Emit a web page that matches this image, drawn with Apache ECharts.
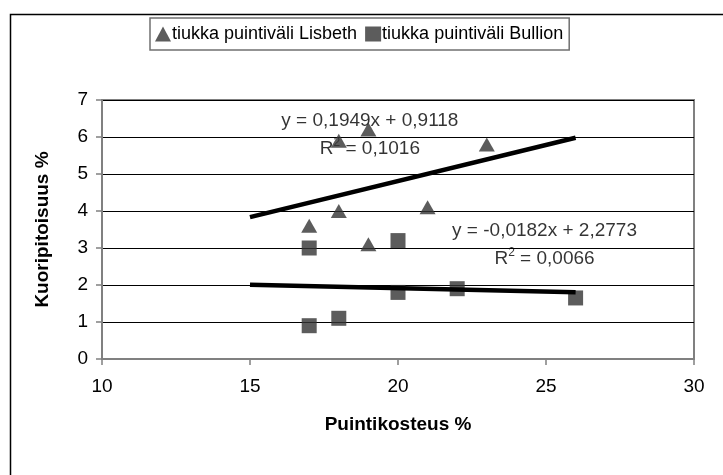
<!DOCTYPE html>
<html>
<head>
<meta charset="utf-8">
<script src="https://cdn.jsdelivr.net/npm/echarts@6/dist/echarts.min.js"></script>
<style>
html,body{margin:0;padding:0;background:#fff;}
#c{width:723px;height:475px;}
</style>
</head>
<body>
<div id="c"></div>
<script>
// Data
const seriesNames = ['tiukka puintiväli Lisbeth', 'tiukka puintiväli Bullion'];
const lisbethX = [17, 18, 18, 19, 19, 21, 23];
const lisbethY = [3.6, 4.0, 5.9, 6.2, 3.1, 4.1, 5.8];
const bullionX = [17, 17, 18, 20, 20, 22, 26];
const bullionY = [3.0, 0.9, 1.1, 3.2, 1.8, 1.9, 1.65];
// Trendline endpoints (x from 15 to 26) as drawn
const trendX = [15, 26];
const lisbethTrendY = [3.835, 5.979];
const bullionTrendY = [2.004, 1.804];
// Trendline equation labels and their anchor positions (data units)
const lisbethEq = ['y = 0,1949x + 0,9118', '0,1016'];
const bullionEq = ['y = -0,0182x + 2,2773', '0,0066'];
const lisbethEqPos = [19.05, 6.05];
const bullionEqPos = [24.95, 3.08];
const xTicks = [10, 15, 20, 25, 30];
const yTicks = [0, 1, 2, 3, 4, 5, 6, 7];

const FONT = 'Arial, "Liberation Sans", sans-serif';
const zip = (xs, ys) => xs.map((x, i) => [x, ys[i]]);

const eqLabel = (eq) => ({
  show: true,
  position: 'inside',
  formatter: '{r|' + eq[0] + '}\n{r|R}{sup|2}{r| = ' + eq[1] + '}',
  color: '#000',
  fontFamily: FONT,
  fontSize: 19,
  lineHeight: 28,
  align: 'center',
  rich: {
    r: { fontFamily: FONT, fontSize: 19, color: '#000', lineHeight: 28 },
    sup: { fontFamily: FONT, fontSize: 12, color: '#000', lineHeight: 12, verticalAlign: 'top', padding: [2, 0, 0, 0] }
  }
});

const chart = echarts.init(document.getElementById('c'), null, { renderer: 'canvas' });
chart.setOption({
  animation: false,
  backgroundColor: '#fff',
  textStyle: { fontFamily: FONT },
  graphic: [{
    type: 'rect', left: 8, top: 12, silent: true,
    shape: { width: 740, height: 500 },
    style: { fill: 'none', stroke: '#000', lineWidth: 1.5 }
  }],
  legend: {
    left: 150, top: 18,
    padding: [7, 6, 7, 5],
    itemGap: 8,
    itemWidth: 16, itemHeight: 15,
    borderColor: '#707070', borderWidth: 1.5,
    backgroundColor: '#fff',
    textStyle: { fontFamily: FONT, fontSize: 18, color: '#000', padding: [0, 0, 0, -4] },
    data: [
      { name: seriesNames[0], icon: 'triangle' },
      { name: seriesNames[1], icon: 'rect' }
    ]
  },
  grid: {
    left: 102, right: 29, top: 100, bottom: 116,
    show: true, borderColor: '#808080', borderWidth: 2, backgroundColor: 'transparent'
  },
  xAxis: {
    type: 'value', min: xTicks[0], max: xTicks[xTicks.length - 1], interval: 5,
    name: 'Puintikosteus %', nameLocation: 'middle', nameGap: 56,
    nameTextStyle: { fontFamily: FONT, fontSize: 19, fontWeight: 'bold', color: '#000' },
    axisLine: { show: true, lineStyle: { color: '#808080', width: 2 } },
    axisTick: { show: true, inside: false, length: 6, lineStyle: { color: '#808080', width: 1.5 } },
    axisLabel: { fontFamily: FONT, fontSize: 19, color: '#000', margin: 18 },
    splitLine: { show: false }
  },
  yAxis: {
    type: 'value', min: yTicks[0], max: yTicks[yTicks.length - 1], interval: 1,
    name: 'Kuoripitoisuus %', nameLocation: 'middle', nameGap: 50,
    nameTextStyle: { fontFamily: FONT, fontSize: 19, fontWeight: 'bold', color: '#000' },
    axisLine: { show: true, lineStyle: { color: '#808080', width: 2 } },
    axisTick: { show: true, inside: false, length: 6, lineStyle: { color: '#808080', width: 1.5 } },
    axisLabel: { fontFamily: FONT, fontSize: 19, color: '#000', margin: 14 },
    splitLine: { show: true, lineStyle: { color: '#000', width: 1 } }
  },
  series: [
    {
      name: 'eq1', type: 'scatter', symbolSize: 0, data: [lisbethEqPos], z: 1, silent: true,
      label: eqLabel(lisbethEq)
    },
    {
      name: 'eq2', type: 'scatter', symbolSize: 0, data: [bullionEqPos], z: 1, silent: true,
      label: eqLabel(bullionEq)
    },
    {
      name: seriesNames[0], type: 'scatter', symbol: 'triangle', symbolSize: [16, 14],
      itemStyle: { color: '#333333' }, data: zip(lisbethX, lisbethY), z: 3
    },
    {
      name: seriesNames[1], type: 'scatter', symbol: 'rect', symbolSize: 15,
      itemStyle: { color: '#333333' }, data: zip(bullionX, bullionY), z: 3
    },
    {
      name: 'trend1', type: 'line', data: zip(trendX, lisbethTrendY), symbol: 'none',
      lineStyle: { color: '#000', width: 4.5 }, z: 4, silent: true
    },
    {
      name: 'trend2', type: 'line', data: zip(trendX, bullionTrendY), symbol: 'none',
      lineStyle: { color: '#000', width: 4.5 }, z: 4, silent: true
    }
  ]
});
</script>
</body>
</html>
